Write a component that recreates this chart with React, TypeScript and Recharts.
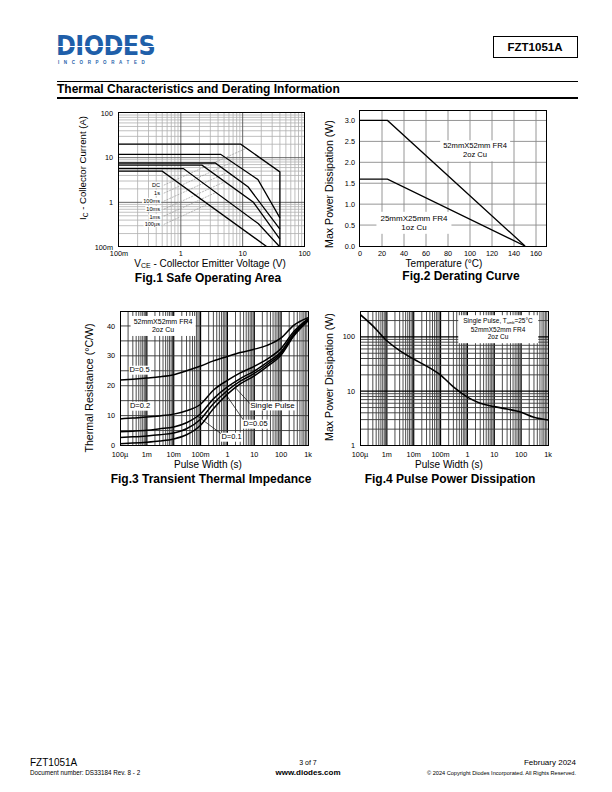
import React from 'react';
import { LineChart, Line, XAxis, YAxis, ReferenceLine } from 'recharts';

const FONT = '"Liberation Sans", Arial, Helvetica, sans-serif';

// ---- Fig.1 Safe Operating Area (VCE in V, IC in A) ----
const soaTicks = [0.1, 1, 10, 100];
const soaTickLabels = ['100m', '1', '10', '100'];
const dcVce = [0.1, 0.5, 25];
const dcIc = [5.0, 5.0, 0.1];
const s1Vce = [0.1, 1.1, 18, 40];
const s1Ic = [5.7, 5.7, 0.33, 0.1];
const ms100Vce = [0.1, 2.2, 14.9, 40];
const ms100Ic = [6.8, 6.8, 1.0, 0.15];
const ms10Vce = [0.1, 3.6, 12.3, 40];
const ms10Ic = [7.6, 7.6, 2.2, 0.25];
const ms1Vce = [0.1, 4.4, 17.6, 40];
const ms1Ic = [11.9, 11.9, 3.24, 0.45];
const us100Vce = [0.1, 9.3, 40, 40];
const us100Ic = [20, 20, 4.8, 0.1];
const soaLabels = ['DC', '1s', '100ms', '10ms', '1ms', '100µs'];
const soaLeaderIc = [2.42, 1.6, 1.06, 0.7, 0.49, 0.32];
const soaLeaderEndVce = [11.4, 6.75, 5.8, 5.1, 3.7, 2.74];
const soaLeaderEndIc = [16.2, 7.9, 4.75, 2.88, 1.66, 0.91];

// ---- Fig.2 Derating curve ----
const tempTicks = [0, 20, 40, 60, 80, 100, 120, 140, 160];
const pdTicks = [0, 0.5, 1.0, 1.5, 2.0, 2.5, 3.0];
const boardLargeT = [0, 25, 150];
const boardLargeP = [3.0, 3.0, 0];
const boardSmallT = [0, 25, 150];
const boardSmallP = [1.6, 1.6, 0];

// ---- Fig.3 / Fig.4 pulse width axis ----
const pulseTicks = [1e-4, 1e-3, 1e-2, 0.1, 1, 10, 100, 1000];
const pulseTickLabels = ['100µ', '1m', '10m', '100m', '1', '10', '100', '1k'];
const pulseT = [1e-4, 3e-4, 1e-3, 3e-3, 1e-2, 3e-2, 0.1, 0.3, 1, 3, 10, 30, 100, 300, 1000];

// Fig.3 transient thermal impedance (°C/W)
const zthTicks = [0, 10, 20, 30, 40];
const zthD05 = [21.9, 22.2, 22.6, 23.0, 23.7, 25.0, 26.6, 28.3, 29.8, 31.1, 32.2, 33.5, 36.0, 40.3, 42.8];
const zthD02 = [8.9, 9.2, 9.5, 9.9, 10.5, 11.6, 13.8, 18.5, 21.8, 24.3, 26.5, 28.9, 32.5, 38.2, 42.4];
const zthD01 = [4.6, 4.8, 5.1, 5.6, 6.2, 7.6, 10.6, 15.6, 19.6, 22.4, 24.9, 27.8, 31.4, 37.6, 42.1];
const zthD005 = [2.7, 2.9, 3.2, 3.6, 4.2, 5.6, 8.8, 14.0, 18.4, 21.5, 24.1, 27.1, 30.9, 37.1, 41.9];
const zthSingle = [0.6, 0.8, 1.1, 1.5, 2.2, 3.6, 6.8, 12.3, 17.2, 20.6, 23.3, 26.4, 30.3, 36.7, 41.7];

// Fig.4 pulse power dissipation (W)
const ppTicks = [1, 10, 100];
const ppP = [260, 160, 85, 56, 39, 29, 19.8, 12.0, 7.8, 6.0, 5.2, 4.7, 4.1, 3.3, 2.95];

const pts = (xs: number[], ys: number[]) => xs.map((x, i) => ({ x, y: ys[i] }));

function logMinors(lo: number, hi: number, max = Infinity) {
  const out: number[] = [];
  for (let e = lo; e < hi; e++)
    for (let m = 2; m <= 9; m++) {
      const v = +(m * 10 ** e).toPrecision(2);
      if (v < max) out.push(v);
    }
  return out;
}
function logMajors(lo: number, hi: number) {
  const out: number[] = [];
  for (let e = lo + 1; e < hi; e++) out.push(+(10 ** e).toPrecision(2));
  return out;
}

type Box = { left: number; top: number; width: number; height: number };
const YW = 40;
const MT = 8;
const MR = 16;
const XH = 20;

const fig1Box: Box = { left: 118.5, top: 112.5, width: 185.5, height: 134 };
const fig2Box: Box = { left: 359.5, top: 110, width: 187, height: 136 };
const fig3Box: Box = { left: 120, top: 311, width: 188, height: 134.5 };
const fig4Box: Box = { left: 360, top: 311, width: 188, height: 134.5 };

const tickStyle = { fontSize: 7.3, fill: '#000', fontFamily: FONT };

function Panel({ box, children }: { box: Box; children: React.ReactNode }) {
  return (
    <>
      <div style={{ position: 'absolute', left: box.left - YW, top: box.top - MT }}>
        <LineChart
          width={box.width + YW + MR}
          height={box.height + MT + XH}
          margin={{ top: MT, right: MR, bottom: 0, left: 0 }}
        >
          {children}
        </LineChart>
      </div>
      <div
        style={{
          position: 'absolute',
          left: box.left - 0.5,
          top: box.top - 0.5,
          width: box.width + 1,
          height: box.height + 1,
          border: '1px solid #000',
          boxSizing: 'border-box',
        }}
      />
    </>
  );
}

function Note({
  x, y, size, weight = 400, align = 'center', bg, pad = '0 1px', children,
}: {
  x: number; y: number; size: number; weight?: number; align?: 'center' | 'left' | 'right';
  bg?: string; pad?: string; children: React.ReactNode;
}) {
  const tx = align === 'center' ? '-50%' : align === 'right' ? '-100%' : '0';
  return (
    <div
      style={{
        position: 'absolute', left: x, top: y, transform: `translate(${tx},-50%)`,
        fontSize: size, fontWeight: weight, lineHeight: 1.15, whiteSpace: 'nowrap',
        background: bg, padding: pad, textAlign: align,
      }}
    >
      {children}
    </div>
  );
}

function YTitle({ x, y, size = 10.6, children }: { x: number; y: number; size?: number; children: React.ReactNode }) {
  return (
    <div
      style={{
        position: 'absolute', left: x, top: y, transform: 'translate(-50%,-50%) rotate(-90deg)',
        fontSize: size, whiteSpace: 'nowrap', lineHeight: 1,
      }}
    >
      {children}
    </div>
  );
}

const axisCommon = {
  type: 'number' as const,
  allowDataOverflow: true,
  interval: 0 as const,
  tick: tickStyle,
  axisLine: false,
  tickLine: false,
  tickSize: 0,
};

function SoaChart() {
  const curves = [
    { name: 'dc', v: dcVce, i: dcIc },
    { name: '1s', v: s1Vce, i: s1Ic },
    { name: '100ms', v: ms100Vce, i: ms100Ic },
    { name: '10ms', v: ms10Vce, i: ms10Ic },
    { name: '1ms', v: ms1Vce, i: ms1Ic },
    { name: '100us', v: us100Vce, i: us100Ic },
  ];
  return (
    <Panel box={fig1Box}>
      <XAxis {...axisCommon} dataKey="x" scale="log" domain={[0.1, 100]} ticks={soaTicks}
        tickFormatter={(_: number, i: number) => soaTickLabels[i]} tickMargin={4} height={XH} />
      <YAxis {...axisCommon} scale="log" domain={[0.1, 100]} ticks={soaTicks}
        tickFormatter={(_: number, i: number) => soaTickLabels[i]} tickMargin={6} width={YW} />
      {logMinors(-1, 2).map((v) => <ReferenceLine key={'gx' + v} x={v} stroke="#b0b0b0" strokeWidth={0.8} />)}
      {logMinors(-1, 2).map((v) => <ReferenceLine key={'gy' + v} y={v} stroke="#b0b0b0" strokeWidth={0.8} />)}
      {logMajors(-1, 2).map((v) => <ReferenceLine key={'Gx' + v} x={v} stroke="#555" strokeWidth={0.9} />)}
      {logMajors(-1, 2).map((v) => <ReferenceLine key={'Gy' + v} y={v} stroke="#555" strokeWidth={0.9} />)}
      {soaLabels.map((l, k) => (
        <ReferenceLine key={'ld' + l}
          segment={[{ x: 0.53, y: soaLeaderIc[k] }, { x: soaLeaderEndVce[k], y: soaLeaderEndIc[k] }]}
          stroke="#999" strokeWidth={0.7} strokeDasharray="2 1" />
      ))}
      {curves.map((c) => (
        <Line key={c.name} data={pts(c.v, c.i)} dataKey="y" type="linear" stroke="#000"
          strokeWidth={1.3} dot={false} isAnimationActive={false} />
      ))}
    </Panel>
  );
}

function DeratingChart() {
  return (
    <Panel box={fig2Box}>
      <XAxis {...axisCommon} dataKey="x" domain={[0, 170]} ticks={tempTicks} tickMargin={5} height={XH} />
      <YAxis {...axisCommon} domain={[0, 3.25]} ticks={pdTicks}
        tickFormatter={(v: number) => v.toFixed(1)} tickMargin={5} width={YW} />
      {tempTicks.slice(1).map((v) => <ReferenceLine key={'gx' + v} x={v} stroke="#8a8a8a" strokeWidth={0.9} />)}
      {pdTicks.slice(1).map((v) => <ReferenceLine key={'gy' + v} y={v} stroke="#8a8a8a" strokeWidth={0.9} />)}
      <Line data={pts(boardLargeT, boardLargeP)} dataKey="y" type="linear" stroke="#000"
        strokeWidth={1.3} dot={false} isAnimationActive={false} />
      <Line data={pts(boardSmallT, boardSmallP)} dataKey="y" type="linear" stroke="#000"
        strokeWidth={1.3} dot={false} isAnimationActive={false} />
    </Panel>
  );
}

function pulseXAxis() {
  return (
    <XAxis {...axisCommon} dataKey="x" scale="log" domain={[1e-4, 1000]} ticks={pulseTicks}
      tickFormatter={(_: number, i: number) => pulseTickLabels[i]} tickMargin={6} height={XH} />
  );
}

function pulseGrid() {
  return [
    ...logMinors(-4, 3).map((v) => <ReferenceLine key={'px' + v} x={v} stroke="#3a3a3a" strokeWidth={0.9} />),
    ...logMajors(-4, 3).map((v) => <ReferenceLine key={'PX' + v} x={v} stroke="#000" strokeWidth={1.2} />),
  ];
}

function ImpedanceChart() {
  const curves = [
    { name: 'd05', y: zthD05 },
    { name: 'd02', y: zthD02 },
    { name: 'd01', y: zthD01 },
    { name: 'd005', y: zthD005 },
    { name: 'single', y: zthSingle },
  ];
  return (
    <Panel box={fig3Box}>
      {pulseXAxis()}
      <YAxis {...axisCommon} domain={[0, 45]} ticks={zthTicks} tickMargin={5} width={YW} />
      {pulseGrid()}
      {[5, 10, 15, 20, 25, 30, 35, 40].map((v) => (
        <ReferenceLine key={'gy' + v} y={v} stroke="#333" strokeWidth={0.9} />
      ))}
      <ReferenceLine segment={[{ x: 7.1, y: 13.9 }, { x: 2.0, y: 19.3 }]} stroke="#000" strokeWidth={0.7} />
      <ReferenceLine segment={[{ x: 3.9, y: 8.6 }, { x: 0.8, y: 17.6 }]} stroke="#000" strokeWidth={0.7} />
      <ReferenceLine segment={[{ x: 0.59, y: 3.9 }, { x: 0.075, y: 9.9 }]} stroke="#000" strokeWidth={0.7} />
      {curves.map((c) => (
        <Line key={c.name} data={pts(pulseT, c.y)} dataKey="y" type="monotone" stroke="#000"
          strokeWidth={1.5} dot={false} isAnimationActive={false} />
      ))}
    </Panel>
  );
}

function PulsePowerChart() {
  return (
    <Panel box={fig4Box}>
      {pulseXAxis()}
      <YAxis {...axisCommon} scale="log" domain={[1, 300]} ticks={ppTicks} tickMargin={5} width={YW} />
      {pulseGrid()}
      {logMinors(0, 3, 300).map((v) => <ReferenceLine key={'gy' + v} y={v} stroke="#3a3a3a" strokeWidth={0.9} />)}
      {logMajors(0, 3).map((v) => <ReferenceLine key={'GY' + v} y={v} stroke="#000" strokeWidth={1.2} />)}
      <Line data={pts(pulseT, ppP)} dataKey="y" type="monotone" stroke="#000"
        strokeWidth={1.6} dot={false} isAnimationActive={false} />
    </Panel>
  );
}

export default function App() {
  const soaLabelY = [185, 193, 201, 209, 216.5, 224];
  return (
    <div
      style={{
        position: 'absolute', left: 0, top: 0, width: 612, height: 792, background: '#fff',
        fontFamily: FONT, color: '#000', overflow: 'hidden',
      }}
    >
      {/* header */}
      <div
        style={{
          position: 'absolute', left: 56, top: 36, fontSize: 24, lineHeight: '19px', fontWeight: 700,
          fontFamily: '"DejaVu Sans", sans-serif', color: '#1f5fa9', letterSpacing: -0.6,
          transform: 'scaleY(1.12)', transformOrigin: 'left top',
        }}
      >
        DIODES
      </div>
      <div style={{ position: 'absolute', left: 56, top: 46, width: 104, height: 1.4, background: '#fff' }} />
      <div style={{ position: 'absolute', left: 58, top: 61, fontSize: 4.5, lineHeight: '4px', letterSpacing: 4.6, color: '#1f5fa9', fontWeight: 700 }}>
        INCORPORATED
      </div>
      <div
        style={{
          position: 'absolute', left: 492.5, top: 35.5, width: 85, height: 22, border: '1px solid #000',
          boxSizing: 'border-box', display: 'flex', alignItems: 'center', justifyContent: 'center',
          fontSize: 11.5, fontWeight: 700,
        }}
      >
        FZT1051A
      </div>
      <div style={{ position: 'absolute', left: 57, top: 80.5, width: 521, height: 1, background: '#000' }} />
      <Note x={57} y={90} size={12} weight={700} align="left" pad="0">
        Thermal Characteristics and Derating Information
      </Note>
      <div style={{ position: 'absolute', left: 57, top: 97, width: 521, height: 2, background: '#000' }} />

      {/* Fig.1 */}
      <SoaChart />
      {soaLabels.map((l, k) => (
        <Note key={l} x={161} y={soaLabelY[k]} size={5.6} align="right" bg="#fff">{l}</Note>
      ))}
      <YTitle x={83.5} y={168} size={9.6}>
        I<span style={{ fontSize: '0.7em', verticalAlign: '-0.25em' }}>C</span> - Collector Current (A)
      </YTitle>
      <Note x={210} y={263.5} size={10}>
        V<span style={{ fontSize: '0.7em', verticalAlign: '-0.25em' }}>CE</span> - Collector Emitter Voltage (V)
      </Note>
      <Note x={208} y={278.5} size={12} weight={700}>Fig.1 Safe Operating Area</Note>

      {/* Fig.2 */}
      <DeratingChart />
      <Note x={475} y={151} size={7.6} bg="#fff" pad="2px 3px">52mmX52mm FR4<br />2oz Cu</Note>
      <Note x={414} y={222.5} size={8} bg="#fff" pad="2px 4px">25mmX25mm FR4<br />1oz Cu</Note>
      <YTitle x={328.5} y={184}>Max Power Dissipation (W)</YTitle>
      <Note x={444} y={264} size={10}>Temperature (°C)</Note>
      <Note x={461} y={277} size={12} weight={700}>Fig.2 Derating Curve</Note>

      {/* Fig.3 */}
      <ImpedanceChart />
      <Note x={163} y={326} size={7} bg="#fff" pad="2px 3px">52mmX52mm FR4<br />2oz Cu</Note>
      <Note x={139.5} y={370} size={7.5} bg="#fff">D=0.5</Note>
      <Note x={140} y={406} size={7.5} bg="#fff">D=0.2</Note>
      <Note x={272.5} y={406} size={8} bg="#fff">Single Pulse</Note>
      <Note x={255.5} y={424} size={7.5} bg="#fff">D=0.05</Note>
      <Note x={231.5} y={437} size={7.5} bg="#fff">D=0.1</Note>
      <YTitle x={88.5} y={388}>Thermal Resistance (°C/W)</YTitle>
      <Note x={208} y={465} size={10}>Pulse Width (s)</Note>
      <Note x={211} y={480} size={12} weight={700}>Fig.3 Transient Thermal Impedance</Note>

      {/* Fig.4 */}
      <PulsePowerChart />
      <Note x={498} y={329} size={6.5} bg="#fff" pad="2px 5px">
        Single Pulse, T<span style={{ fontSize: '0.6em', verticalAlign: '-0.3em' }}>amb</span>=25°C
        <br />52mmX52mm FR4<br />2oz Cu
      </Note>
      <YTitle x={328.5} y={377}>Max Power Dissipation (W)</YTitle>
      <Note x={449} y={465} size={10}>Pulse Width (s)</Note>
      <Note x={450} y={479.5} size={12} weight={700}>Fig.4 Pulse Power Dissipation</Note>

      {/* footer */}
      <Note x={30} y={763} size={10} align="left" pad="0">FZT1051A</Note>
      <Note x={30} y={772.5} size={6.3} align="left" pad="0">Document number: DS33184 Rev. 8 - 2</Note>
      <Note x={308} y={763} size={7} pad="0">3 of 7</Note>
      <Note x={308} y={772.5} size={8} weight={700} pad="0">www.diodes.com</Note>
      <Note x={576} y={763} size={8} align="right" pad="0">February 2024</Note>
      <Note x={576} y={772.5} size={5.6} align="right" pad="0">
        © 2024 Copyright Diodes Incorporated. All Rights Reserved.
      </Note>
    </div>
  );
}
